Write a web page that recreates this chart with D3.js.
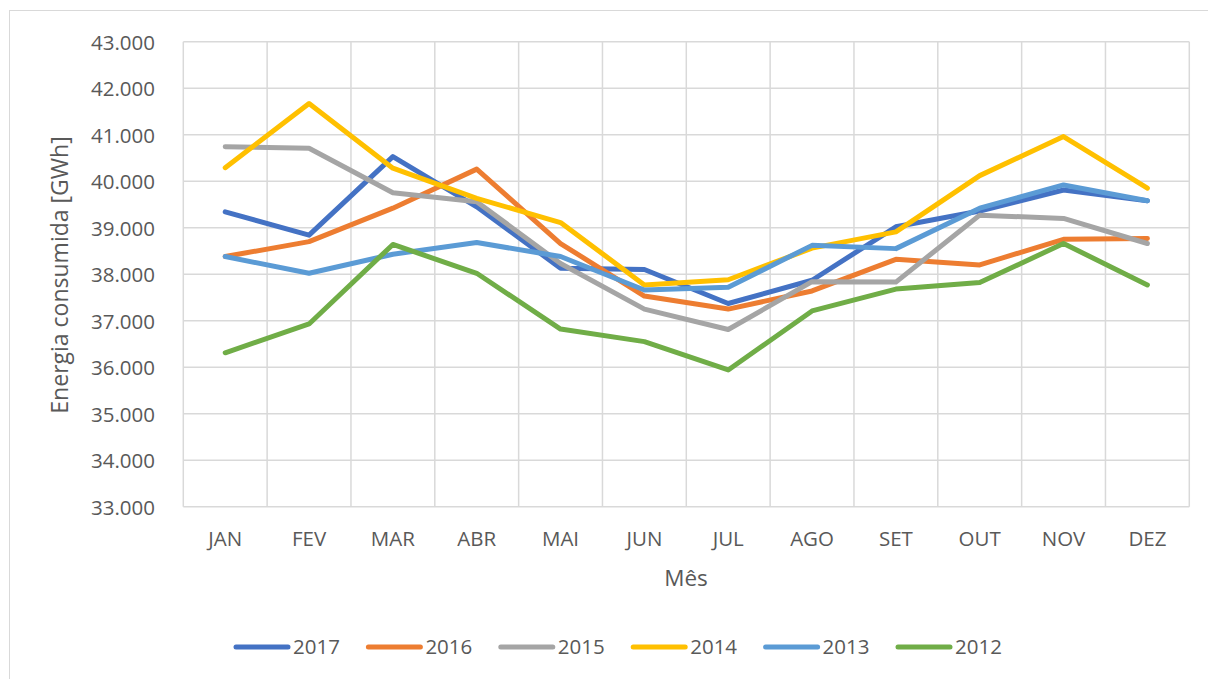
<!DOCTYPE html>
<html><head><meta charset="utf-8">
<script src="https://cdn.jsdelivr.net/npm/d3@7"></script>
<style>body{margin:0;background:#fff;} text{font-family:"Open Sans","Noto Sans",sans-serif;fill:#595959;}</style>
</head><body><svg id="c" width="1208" height="679"></svg>
<script>
const months = ["JAN","FEV","MAR","ABR","MAI","JUN","JUL","AGO","SET","OUT","NOV","DEZ"];
const years = ["2017","2016","2015","2014","2013","2012"];
const colors = ["#4472C4","#ED7D31","#A5A5A5","#FFC000","#5B9BD5","#70AD47"];
const v2017 = [39340,38840,40530,39450,38130,38100,37370,37870,39020,39360,39810,39580];
const v2016 = [38380,38700,39420,40260,38660,37530,37250,37640,38320,38200,38750,38770];
const v2015 = [40740,40710,39750,39560,38230,37250,36810,37840,37830,39270,39200,38660];
const v2014 = [40290,41670,40280,39630,39110,37770,37880,38560,38910,40120,40960,39850];
const v2013 = [38380,38020,38430,38680,38380,37660,37720,38620,38550,39420,39920,39580];
const v2012 = [36310,36930,38640,38020,36820,36550,35940,37210,37680,37820,38660,37770];
const seriesValues = [v2017,v2016,v2015,v2014,v2013,v2012];
const yTicks = [33000,34000,35000,36000,37000,38000,39000,40000,41000,42000,43000];

const svg = d3.select("#c");
svg.append("rect").attr("x",9.5).attr("y",10.5).attr("width",1220).attr("height",700)
  .attr("fill","none").attr("stroke","#d9d9d9").attr("stroke-width",1);

const L=183.3, R=1189.3, T=41.7, B=506.7;
const x = d3.scaleBand().domain(months).range([L,R]);
const y = d3.scaleLinear().domain([33000,43000]).range([B,T]);
const fmt = d => d3.format(",")(d).replace(/,/g,".");

const g = svg.append("g");
g.selectAll(".hg").data(yTicks).join("line")
  .attr("x1",L).attr("x2",R).attr("y1",d=>y(d)).attr("y2",d=>y(d))
  .attr("stroke","#d9d9d9").attr("stroke-width",1.5);
const vb = months.map(m=>x(m)).concat([R]);
g.selectAll(".vg").data(vb).join("line")
  .attr("x1",d=>d).attr("x2",d=>d).attr("y1",T).attr("y2",B)
  .attr("stroke","#d9d9d9").attr("stroke-width",1.5);

g.selectAll(".yl").data(yTicks).join("text")
  .attr("x",155).attr("y",d=>y(d)+1).attr("dy","0.35em").attr("text-anchor","end")
  .attr("font-size",20.5).text(fmt);
g.selectAll(".xl").data(months).join("text")
  .attr("x",d=>x(d)+x.bandwidth()/2).attr("y",545.5).attr("text-anchor","middle")
  .attr("font-size",20.5).text(d=>d);

svg.append("text").attr("transform","translate(68,275) rotate(-90)")
  .attr("text-anchor","middle").attr("font-size",23).text("Energia consumida [GWh]");
svg.append("text").attr("x",686).attr("y",586).attr("text-anchor","middle")
  .attr("font-size",22.5).text("Mês");

const line = d3.line().x((d,i)=>x(months[i])+x.bandwidth()/2).y(d=>y(d));
seriesValues.forEach((vals,k)=>{
  svg.append("path").datum(vals).attr("d",line).attr("fill","none")
    .attr("stroke",colors[k]).attr("stroke-width",5).attr("stroke-linejoin","round").attr("stroke-linecap","round");
});

const lg = svg.append("g");
years.forEach((yr,k)=>{
  const x0 = 236 + k*132.4;
  lg.append("line").attr("x1",x0).attr("x2",x0+52).attr("y1",647).attr("y2",647)
    .attr("stroke",colors[k]).attr("stroke-width",5).attr("stroke-linecap","round");
  lg.append("text").attr("x",x0+57).attr("y",646.5).attr("dy","0.35em").attr("font-size",20.5).text(yr);
});
</script></body></html>
